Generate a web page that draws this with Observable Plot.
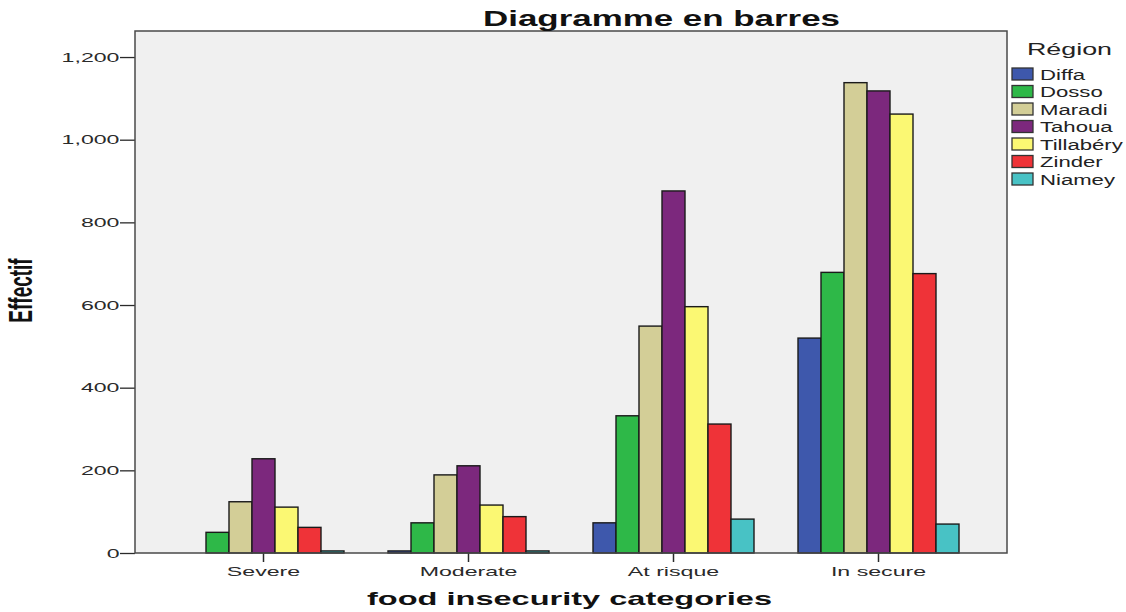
<!DOCTYPE html>
<html>
<head>
<meta charset="utf-8">
<script src="https://cdn.jsdelivr.net/npm/d3@7"></script>
<script src="https://cdn.jsdelivr.net/npm/@observablehq/plot@0.6"></script>
<style>
  html, body { margin: 0; padding: 0; background: #ffffff; }
  #chart { width: 1126px; height: 612px; }
</style>
</head>
<body>
<div id="chart"></div>
<script>
// ---- data ----
const categories = ["Severe", "Moderate", "At risque", "In secure"];
const regions = ["Diffa", "Dosso", "Maradi", "Tahoua", "Tillabéry", "Zinder", "Niamey"];
const regionColors = ["#3e58ac", "#2eb848", "#d3ce97", "#7c287d", "#fbf873", "#ef3338", "#48c2c5"];
// values per region, in the order of categories
const diffa     = [0,   5,   73,  520];
const dosso     = [50,  73,  332, 679];
const maradi    = [124, 189, 549, 1138];
const tahoua    = [228, 211, 876, 1118];
const tillabery = [111, 116, 596, 1062];
const zinder    = [62,  88,  312, 676];
const niamey    = [5,   5,   82,  70];
const yTicks = [0, 200, 400, 600, 800, 1000, 1200];

const series = [diffa, dosso, maradi, tahoua, tillabery, zinder, niamey];
const data = [];
categories.forEach((c, ci) => {
  regions.forEach((r, ri) => {
    data.push({category: c, region: r, value: series[ri][ci]});
  });
});

const W = 1126, H = 612;
const M = {top: 31, right: 119, bottom: 59, left: 135};
const fxPadInner = 0.188, fxPadOuter = 0.2135;

const plot = Plot.plot({
  width: W,
  height: H,
  marginTop: M.top,
  marginRight: M.right,
  marginBottom: M.bottom,
  marginLeft: M.left,
  style: {fontFamily: "'Liberation Sans', Arial, sans-serif", fontSize: "13px", color: "#2a2a2a", background: "transparent"},
  fx: {domain: categories, paddingInner: fxPadInner, paddingOuter: fxPadOuter, label: null},
  x: {domain: regions, paddingInner: 0, paddingOuter: 0, axis: null},
  y: {domain: [0, 1263], label: null},
  color: {domain: regions, range: regionColors},
  marks: [
    Plot.axisY({ticks: yTicks, tickFormat: d3.format(","), tickSize: 15, tickPadding: 1, fontSize: 13, label: null, strokeWidth: 1.3}),
    Plot.axisFx({anchor: "bottom", tickSize: 9, tickPadding: 4, fontSize: 13, label: null, strokeWidth: 1.5}),
    Plot.barY(data, {fx: "category", x: "region", y: "value", fill: "region", stroke: "#1a1a1a", strokeWidth: 1.4})
  ]
});

document.getElementById("chart").appendChild(plot);
const svg = d3.select(plot);

// the y axis is drawn in the first facet; move it to the plot frame's left edge
const fxInfo = plot.scale("fx");
const firstFacetLeft = d3.min(fxInfo.domain.map(d => fxInfo.apply(d)));
const yAxisShift = M.left - firstFacetLeft;
svg.selectAll("g[aria-label^='y-axis']").each(function() {
  const t = this.getAttribute("transform") || "";
  this.setAttribute("transform", `translate(${yAxisShift},0) ${t}`);
});

// plot area background and frame
svg.insert("rect", ":first-child")
  .attr("x", M.left).attr("y", M.top)
  .attr("width", W - M.left - M.right).attr("height", H - M.top - M.bottom)
  .attr("fill", "#f0f0f0");
svg.append("rect")
  .attr("x", M.left).attr("y", M.top)
  .attr("width", W - M.left - M.right).attr("height", H - M.top - M.bottom)
  .attr("fill", "none").attr("stroke", "#4a4a4a").attr("stroke-width", 1.5);

// stretch a text horizontally, keeping its anchor point fixed
function stretch(el, k) {
  const len = el.getComputedTextLength();
  if (!(len > 0)) return;
  const anchor = getComputedStyle(el).textAnchor;
  const b0 = el.getBBox();
  el.setAttribute("textLength", len * k);
  el.setAttribute("lengthAdjust", "spacingAndGlyphs");
  const b1 = el.getBBox();
  let shift;
  if (anchor === "end") shift = (b0.x + b0.width) - (b1.x + b1.width);
  else if (anchor === "middle") shift = (b0.x + b0.width / 2) - (b1.x + b1.width / 2);
  else shift = b0.x - b1.x;
  if (Math.abs(shift) > 0.1) {
    const t = el.getAttribute("transform") || "";
    el.setAttribute("transform", `translate(${shift},0) ${t}`);
  }
}

svg.selectAll("text").each(function() { stretch(this, 1.78); });

const font = "'Liberation Sans', Arial, sans-serif";

// title
const title = svg.append("text")
  .attr("x", 661.5).attr("y", 26)
  .attr("text-anchor", "middle")
  .attr("font-family", font).attr("font-weight", "bold").attr("font-size", 22)
  .attr("fill", "#111")
  .text("Diagramme en barres");
stretch(title.node(), 357 / title.node().getComputedTextLength());

// x label
const xl = svg.append("text")
  .attr("x", 569.5).attr("y", 605)
  .attr("text-anchor", "middle")
  .attr("font-family", font).attr("font-weight", "bold").attr("font-size", 19)
  .attr("fill", "#111")
  .text("food insecurity categories");
stretch(xl.node(), 405 / xl.node().getComputedTextLength());

// y label (condensed bold, rotated, stretched horizontally)
svg.append("text")
  .attr("transform", "translate(32,290.5) scale(1.7,1) rotate(-90)")
  .attr("text-anchor", "middle")
  .attr("font-family", "'Liberation Sans Narrow', 'Liberation Sans', Arial, sans-serif")
  .attr("font-weight", "bold").attr("font-size", 19)
  .attr("fill", "#111")
  .text("Effectif");

// legend
const lg = svg.append("g").attr("font-family", font).attr("fill", "#222").attr("text-anchor", "start");
const lt = lg.append("text")
  .attr("x", 1027).attr("y", 55)
  .attr("text-anchor", "start")
  .attr("font-size", 16)
  .text("Région");
stretch(lt.node(), 85 / lt.node().getComputedTextLength());
regions.forEach((r, i) => {
  lg.append("rect")
    .attr("x", 1012).attr("y", 68 + i * 17.5)
    .attr("width", 21).attr("height", 12)
    .attr("fill", regionColors[i]).attr("stroke", "#333").attr("stroke-width", 1.3);
  const t = lg.append("text")
    .attr("x", 1040).attr("y", 79.5 + i * 17.5)
    .attr("text-anchor", "start")
    .attr("font-size", 14)
    .text(r);
  stretch(t.node(), 1.58);
});
</script>
</body>
</html>
